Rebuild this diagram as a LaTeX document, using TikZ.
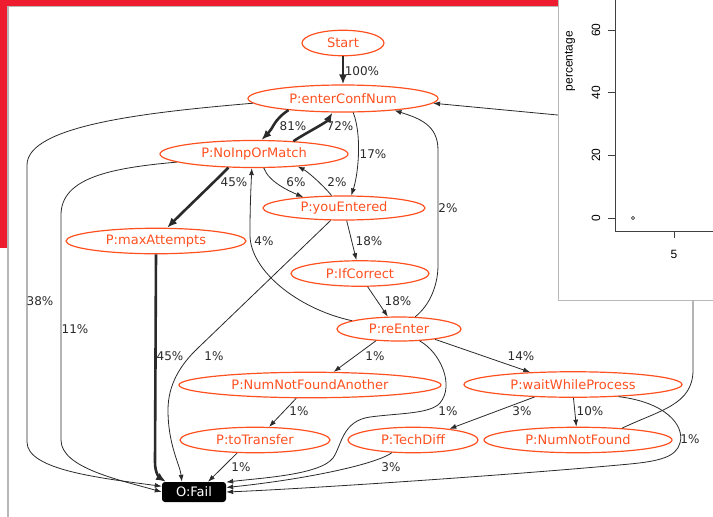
\documentclass[tikz,border=0pt]{standalone}
\usepackage{fontspec}
\setmainfont{DejaVu Sans}
\newfontfamily\plotfont{Liberation Sans}
\usetikzlibrary{shapes.geometric, arrows.meta, positioning}

\definecolor{graphorange}{HTML}{FF5020}
\definecolor{deskred}{HTML}{ED1C2E}
\definecolor{framegray}{HTML}{B8B8B8}
\definecolor{edgegray}{HTML}{2A2A2A}

\begin{document}
\begin{tikzpicture}[x = 1pt, y = -1pt, >={Latex[length = 7pt, width = 5pt]},
  state/.style = {ellipse, draw = graphorange, text = graphorange, line width = 1.2pt,
    inner sep = 0pt, minimum height = 25.5pt, font = \fontsize{13}{15}\selectfont},
  outcome/.style = {rectangle, fill = black, text = white, rounded corners = 3pt,
    minimum width = 64pt, minimum height = 20pt, inner sep = 0pt, font = \fontsize{13}{15}\selectfont},
  wire/.style = {->, draw = edgegray, line width = 0.8pt},
  heavy/.style = {wire, line width = 2.6pt, >={Latex[length = 10pt, width = 8pt]}},
  pct/.style = {text = edgegray, inner sep = 0pt, font = \fontsize{12}{14}\selectfont},
  plottext/.style = {inner sep = 0pt, font = \plotfont\fontsize{12}{14}\selectfont}]
\useasboundingbox (0,0) rectangle (713,517);

% desktop and window frame
\fill[deskred] (0,0) rectangle (558.5,5.5);
\fill[deskred] (0,0) rectangle (7.5,248);
\draw[framegray, line width = 1.3pt] (8,517) |- (558.5,6.2);

\node[state, minimum width = 82pt] (start) at (343,43) {Start};
\node[state, minimum width = 190pt, minimum height = 27pt] (enter-conf) at (343,98.5) {P:enterConfNum};
\node[state, minimum width = 188pt, minimum height = 27pt] (no-input) at (254,154) {P:NoInpOrMatch};
\node[state, minimum width = 162pt, minimum height = 24pt] (you-entered) at (344,208) {P:youEntered};
\node[state, minimum width = 180pt] (max-attempts) at (156,241) {P:maxAttempts};
\node[state, minimum width = 138pt] (if-correct) at (360,273.5) {P:IfCorrect};
\node[state, minimum width = 124pt, minimum height = 24pt] (re-enter) at (399,329) {P:reEnter};
\node[state, minimum width = 262pt] (not-found-another) at (310,385) {P:NumNotFoundAnother};
\node[state, minimum width = 218pt] (wait-process) at (573,384.5) {P:waitWhileProcess};
\node[state, minimum width = 150pt] (to-transfer) at (255,440) {P:toTransfer};
\node[state, minimum width = 130pt] (tech-diff) at (413,440) {P:TechDiff};
\node[state, minimum width = 188pt] (not-found) at (578,440) {P:NumNotFound};
\node[outcome] (fail) at (194,492) {O:Fail};

% draw transitions
\draw[heavy] (start) -- (enter-conf) node[pct] at (362,71) {100\%};
\draw[heavy] (enter-conf.192) .. controls +(-15,10) and +(12,-12) .. (no-input.62) node[pct] at (293,126) {81\%};
\draw[heavy] (no-input.18) .. controls +(12,-8) and +(-6,10) .. (enter-conf.233) node[pct] at (340,126) {72\%};
\draw[wire] (enter-conf.306) .. controls +(9,23) and +(7,-21) .. (you-entered.60) node[pct] at (373,154) {17\%};
\draw[heavy] (no-input.208) .. controls +(-15,15) and +(15,-15) .. (max-attempts.50) node[pct] at (234,182) {45\%};
\draw[wire] (no-input.305) .. controls +(5,14) and +(-14,-6) .. (you-entered.165) node[pct] at (296,182) {6\%};
\draw[wire] (you-entered.135) .. controls +(-8,-10) and +(10,5) .. (no-input.344) node[pct] at (337,182) {2\%};
\draw[wire] (re-enter.37) .. controls +(15,-12) and +(0,20) .. (438,265) -- (438,150)
  .. controls +(0,-25) and +(25,8) .. (enter-conf.347) node[pct] at (448,208) {2\%};
\draw[wire] (re-enter.170) .. controls +(-55,-12) and +(0,35) .. (250,235)
  .. controls +(0,-30) and +(-1,25) .. (no-input.261) node[pct] at (264,241) {4\%};
\draw[wire] (you-entered.282) -- (if-correct.105) node[pct] at (369,241) {18\%};
\draw[wire] (if-correct.300) -- (re-enter.132) node[pct] at (398,301) {18\%};
\draw[wire] (enter-conf.183) .. controls (150,112) and (27,125) .. (27,165) -- (27,442)
  .. controls (27,470) and (100,478) .. (fail.170) node[pct] at (40,301) {38\%};
\draw[wire] (no-input.186) .. controls (110,168) and (61,178) .. (61,215) -- (61,440)
  .. controls (61,468) and (120,480) .. (fail.180) node[pct] at (75,329) {11\%};
\draw[heavy] (max-attempts.south) -- (155,462) .. controls (155,474) and (160,478) .. (fail.160) node[pct] at (170,356) {45\%};
\draw[wire] (you-entered.223) -- (198,348) .. controls (180,365) and (168,385) .. (168,410)
  .. controls (168,445) and (180,465) .. (fail.140) node[pct] at (214,356) {1\%};
\draw[wire] (re-enter.207) -- (not-found-another.29) node[pct] at (375,356) {1\%};
\draw[wire] (re-enter.344) -- (wait-process.164) node[pct] at (521,356) {14\%};
\draw[wire] (re-enter.330) .. controls (440,352) and (455,385) .. (440,403)
  .. controls (430,414) and (400,413) .. (370,417) .. controls (342,421) and (342,445) .. (333,458)
  .. controls (320,475) and (260,478) .. (fail.17) node[pct] at (448,411) {1\%};
\draw[wire] (not-found-another.224) -- (to-transfer.43) node[pct] at (299,411) {1\%};
\draw[wire] (wait-process.198) -- (tech-diff.17) node[pct] at (522,411) {3\%};
\draw[wire] (wait-process.272) -- (not-found.97) node[pct] at (590,411) {10\%};
\draw[wire] (wait-process.345) .. controls (665,402) and (685,425) .. (680,443)
  .. controls (676,457) and (660,461) .. (630,464) .. controls (500,476) and (300,489) .. (fail.0)
  node[pct] at (690,439) {1\%};
\draw[wire] (to-transfer.216) -- (fail.36) node[pct] at (241,467) {1\%};
\draw[wire] (tech-diff.211) .. controls (375,465) and (300,480) .. (fail.8) node[pct] at (391,467) {3\%};
\draw[wire] (not-found.15) .. controls (660,410) and (693,405) .. (693,370) -- (693,160)
  .. controls (693,128) and (650,121) .. (600,119) -- (enter-conf.357);

% plot window on top
\fill[white] (558.5,-2) rectangle (716,300.5);
\draw[framegray, line width = 1.5pt] (558.5,-2) |- (716,300.5);
\draw[black!75, line width = 0.8pt] (615,-2) |- (716,231);
\foreach \val/\ypos in {60/30, 40/92.7, 20/155.3, 0/218} {
  \draw[black!75, line width = 0.8pt] (608,\ypos) -- (615,\ypos);
  \node[plottext, rotate = 90] at (596,\ypos) {\val};
}
\draw[black!75, line width = 0.8pt] (674,231) -- (674,238);
\node[plottext] (tick-five) at (674,254) {5};
\node[plottext, rotate = 90] (y-label) at (570,61) {percentage};
\draw[black!75, line width = 0.6pt] (633,218) circle (1.6pt);
\end{tikzpicture}
\end{document}
